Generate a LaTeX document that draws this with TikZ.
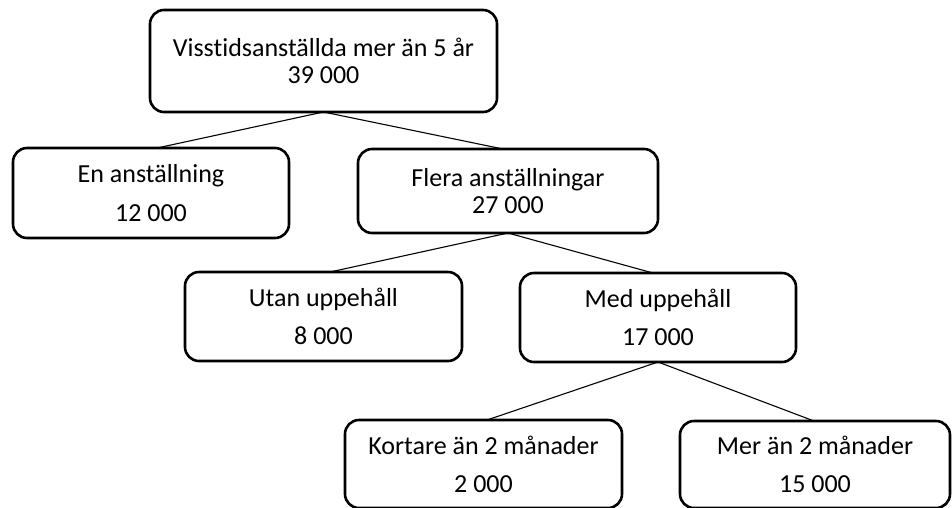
\documentclass[tikz,border=0pt]{standalone}
\usepackage{fontspec}
\setmainfont[Ligatures=NoCommon]{Carlito}
\begin{document}
\begin{tikzpicture}[x=1pt,y=-1pt,
  box/.style={draw=black, line width=2.6pt, rounded corners=14pt, inner sep=0pt, outer sep=0pt,
    align=center, font=\fontsize{26}{27}\selectfont, text=black},
  conn/.style={draw=black, line width=1.1pt}]
\clip (0,0) rectangle (952,507);
\fill[white] (0,0) rectangle (952,507);
\node[box, minimum width=347pt, minimum height=102pt] (top) at (323.5,61) {Visstidsanställda mer än 5 år\\39 000};
\node[box, minimum width=276pt, minimum height=90pt] (en) at (151,193) {En anställning\\[12pt]12 000};
\node[box, minimum width=300pt, minimum height=84pt] (flera) at (508,191) {Flera anställningar\\27 000};
\node[box, minimum width=277pt, minimum height=89pt] (utan) at (323.5,316.5) {Utan uppehåll\\[11pt]8 000};
\node[box, minimum width=276pt, minimum height=89pt] (med) at (658,317.5) {Med uppehåll\\[11pt]17 000};
\node[box, minimum width=277pt, minimum height=88pt] (kort) at (483.5,464) {Kortare än 2 månader\\[11pt]2 000};
\node[box, minimum width=270pt, minimum height=87pt] (mer) at (815,464.5) {Mer än 2 månader\\[11pt]15 000};
\draw[conn] (top.south) -- ([xshift=6pt]en.north);
\draw[conn] (top.south) -- ([xshift=-5pt]flera.north);
\draw[conn] (flera.south) -- ([xshift=6.5pt]utan.north);
\draw[conn] (flera.south) -- ([xshift=-5pt]med.north);
\draw[conn] (med.south) -- ([xshift=3.5pt]kort.north);
\draw[conn] (med.south) -- ([xshift=-1pt]mer.north);
\end{tikzpicture}
\end{document}
